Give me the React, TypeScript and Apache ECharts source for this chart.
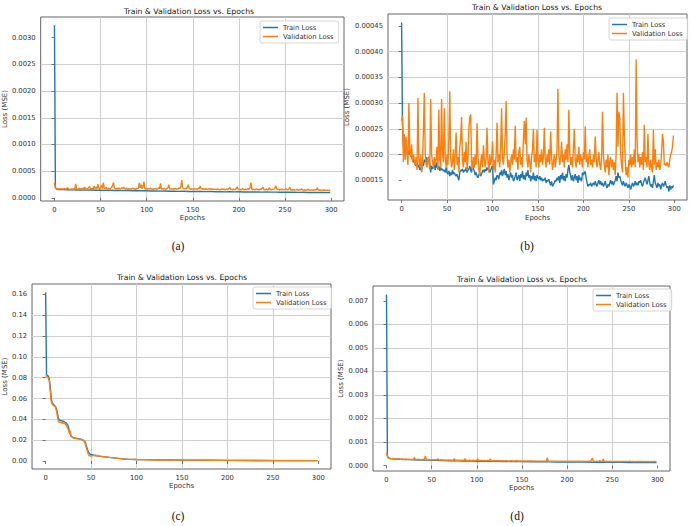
import { useEffect, useRef } from "react";
import * as echarts from "echarts";

type Pt = [number, number];

// Shared epoch axis
const EPOCH_TICKS = [0, 50, 100, 150, 200, 250, 300];
const LAST_EPOCH = 299;

// (a) losses, in units of 1e-6
const A_Y_TICKS = [0, 0.0005, 0.001, 0.0015, 0.002, 0.0025, 0.003];
const A_TRAIN: Pt[] = [
  [0, 3230], [1, 200], [2, 165], [3, 160], [5, 158], [10, 155], [15, 152], [20, 150], [25, 148], [30, 150],
  [35, 145], [40, 147], [45, 143], [50, 145], [55, 140], [60, 142], [65, 138], [70, 140], [75, 136], [80, 138],
  [85, 134], [90, 135], [95, 132], [100, 133], [105, 128], [110, 130], [115, 126], [120, 128], [125, 124], [130, 126],
  [135, 122], [140, 124], [145, 120], [150, 122], [155, 118], [160, 120], [165, 116], [170, 118], [175, 115], [180, 116],
  [185, 113], [190, 115], [195, 112], [200, 114], [205, 110], [210, 112], [215, 109], [220, 111], [225, 108], [230, 110],
  [235, 107], [240, 108], [245, 105], [250, 107], [255, 104], [260, 106], [265, 103], [270, 104], [275, 101], [280, 103],
  [285, 100], [290, 101], [295, 98], [299, 100],
];
const A_VAL = [
  280, 185, 170, 165, 172, 160, 168, 175, 162, 170, 165, 178, 160, 168, 190, 172, 165, 160, 170, 158,
  165, 172, 160, 260, 175, 162, 168, 180, 160, 172, 165, 185, 170, 200, 162, 175, 168, 190, 210, 172,
  165, 180, 170, 220, 175, 200, 168, 255, 185, 170, 190, 240, 175, 285, 180, 170, 195, 165, 175, 185,
  170, 178, 200, 230, 290, 185, 172, 165, 180, 170, 188, 165, 175, 190, 168, 200, 172, 165, 185, 160,
  170, 165, 178, 160, 172, 180, 165, 170, 158, 175, 168, 180, 280, 190, 245, 175, 200, 305, 172, 165,
  180, 160, 175, 165, 185, 162, 170, 158, 175, 165, 180, 160, 170, 190, 175, 270, 165, 172, 160, 178,
  168, 160, 175, 185, 245, 170, 162, 175, 160, 170, 165, 180, 158, 172, 165, 190, 175, 200, 335, 190,
  175, 165, 180, 170, 200, 245, 175, 168, 160, 172, 165, 158, 175, 162, 170, 160, 180, 175, 225, 170,
  162, 175, 158, 168, 160, 172, 155, 165, 175, 160, 168, 155, 170, 162, 158, 165, 155, 168, 160, 150,
  162, 155, 170, 158, 165, 150, 160, 168, 155, 175, 200, 162, 158, 150, 165, 155, 160, 170, 210, 162,
  155, 165, 150, 160, 172, 158, 150, 165, 155, 162, 175, 158, 185, 285, 165, 155, 162, 150, 158, 170,
  155, 160, 148, 165, 158, 175, 200, 160, 152, 158, 165, 150, 160, 190, 155, 148, 162, 155, 165, 180,
  225, 170, 155, 160, 148, 158, 150, 165, 155, 150, 160, 175, 148, 155, 160, 200, 155, 145, 152, 148,
  155, 145, 150, 160, 148, 142, 155, 150, 175, 148, 145, 152, 140, 150, 145, 158, 148, 142, 150, 145,
  140, 150, 145, 155, 148, 190, 150, 142, 148, 138, 145, 150, 140, 148, 142, 135, 145, 140, 138, 142,
];

// (b) losses, in units of 1e-6
const B_Y_TICKS = [0.00015, 0.0002, 0.00025, 0.0003, 0.00035, 0.0004, 0.00045];
const B_TRAIN = [
  457, 260, 215, 205, 218, 210, 212, 205, 200, 210, 198, 195, 190, 185, 190, 180, 178, 185, 175, 180,
  170, 175, 168, 182, 178, 190, 185, 195, 180, 188, 196, 182, 165, 178, 172, 175, 180, 170, 185, 175,
  172, 178, 168, 175, 170, 172, 168, 170, 165, 175, 165, 162, 168, 158, 165, 160, 170, 162, 165, 160,
  158, 162, 155, 150, 165, 170, 168, 172, 165, 170, 168, 175, 165, 170, 172, 178, 170, 165, 182, 172,
  168, 160, 165, 158, 155, 160, 165, 158, 162, 168, 170, 165, 172, 168, 175, 170, 172, 165, 170, 175,
  178, 142, 148, 155, 150, 160, 158, 152, 165, 160, 170, 158, 165, 172, 160, 168, 155, 162, 150, 158,
  165, 155, 160, 148, 152, 158, 165, 150, 155, 160, 148, 162, 155, 168, 152, 160, 150, 165, 158, 170,
  155, 160, 148, 158, 152, 165, 150, 158, 148, 160, 155, 152, 158, 150, 155, 148, 152, 150, 155, 145,
  150, 148, 152, 145, 140, 148, 138, 142, 145, 150, 148, 155, 150, 158, 145, 160, 152, 165, 150, 158,
  148, 162, 155, 170, 180, 165, 158, 150, 160, 148, 155, 162, 150, 158, 145, 160, 150, 155, 148, 165,
  160, 165, 167, 155, 145, 138, 142, 140, 145, 138, 142, 145, 140, 148, 142, 138, 145, 150, 142, 148,
  140, 145, 138, 142, 148, 140, 135, 142, 138, 145, 150, 142, 148, 140, 145, 150, 158, 148, 165, 155,
  158, 150, 145, 140, 148, 142, 138, 145, 140, 135, 142, 138, 132, 140, 145, 138, 142, 148, 140, 145,
  140, 148, 145, 150, 142, 138, 145, 150, 155, 148, 142, 150, 158, 145, 138, 142, 135, 148, 160, 145,
  140, 135, 145, 138, 142, 132, 140, 145, 138, 142, 148, 140, 135, 138, 128, 140, 132, 138, 135, 140,
];
const B_VAL = [
  265, 275, 185, 240, 190, 235, 200, 180, 300, 210, 195, 220, 185, 200, 190, 180, 195, 170, 310, 190,
  175, 200, 165, 185, 245, 320, 200, 180, 175, 195, 185, 170, 308, 200, 185, 175, 195, 180, 190, 215,
  170, 287, 190, 175, 308, 200, 185, 290, 195, 175, 200, 180, 230, 323, 195, 175, 185, 210, 170, 200,
  243, 180, 195, 165, 215, 230, 273, 190, 175, 205, 185, 225, 170, 190, 250, 272, 278, 185, 170, 195,
  175, 200, 180, 261, 195, 170, 160, 185, 200, 175, 218, 190, 175, 195, 252, 185, 165, 200, 180, 190,
  226, 170, 190, 165, 200, 262, 185, 200, 175, 215, 290, 195, 180, 205, 240, 304, 200, 175, 190, 165,
  185, 200, 180, 210, 190, 256, 185, 195, 170, 205, 215, 180, 195, 175, 230, 265, 220, 272, 190, 175,
  200, 185, 165, 195, 210, 250, 185, 200, 175, 248, 190, 175, 200, 185, 210, 180, 195, 252, 190, 175,
  200, 185, 210, 180, 245, 195, 170, 185, 200, 175, 190, 210, 328, 200, 180, 195, 225, 185, 200, 175,
  210, 190, 220, 185, 287, 200, 180, 195, 175, 210, 250, 190, 175, 200, 185, 215, 180, 200, 190, 175,
  205, 190, 255, 185, 200, 175, 195, 210, 180, 190, 175, 200, 185, 235, 195, 175, 190, 205, 180, 170,
  195, 283, 200, 180, 165, 190, 175, 200, 160, 185, 195, 175, 190, 170, 185, 160, 200, 320, 215, 283,
  270, 200, 180, 165, 320, 240, 190, 160, 175, 155, 190, 180, 200, 175, 195, 180, 210, 175, 385, 230,
  185, 200, 175, 195, 180, 205, 170, 258, 185, 195, 175, 240, 180, 170, 190, 175, 165, 248, 180, 210,
  170, 185, 175, 190, 170, 180, 205, 240, 225, 180, 182, 178, 185, 180, 175, 190, 200, 205, 215, 237,
];

// (c) losses, in natural units
const C_Y_TICKS = [0, 0.02, 0.04, 0.06, 0.08, 0.1, 0.12, 0.14, 0.16];
const C_TRAIN: Pt[] = [
  [0, 0.162], [1, 0.083], [2, 0.082], [3, 0.0815], [4, 0.079], [5, 0.072], [6, 0.062], [7, 0.056], [8, 0.055],
  [9, 0.054], [10, 0.053], [11, 0.052], [12, 0.05], [13, 0.046], [14, 0.041], [15, 0.0395], [16, 0.039],
  [18, 0.0385], [20, 0.038], [22, 0.037], [24, 0.035], [25, 0.033], [26, 0.029], [27, 0.026], [28, 0.024],
  [30, 0.0225], [33, 0.022], [36, 0.0215], [39, 0.021], [41, 0.02], [43, 0.019], [44, 0.017], [45, 0.014],
  [46, 0.011], [47, 0.0085], [48, 0.007], [50, 0.006], [53, 0.0055], [56, 0.005], [60, 0.0045], [65, 0.004],
  [70, 0.0035], [75, 0.003], [80, 0.0025], [85, 0.002], [90, 0.0018], [100, 0.0015], [110, 0.0013],
  [120, 0.0011], [140, 0.0009], [160, 0.0008], [180, 0.0007], [200, 0.0006], [230, 0.0005], [260, 0.0004],
  [299, 0.0004],
];
const C_VAL: Pt[] = [
  [0, 0.082], [1, 0.0815], [2, 0.081], [3, 0.0795], [4, 0.077], [5, 0.068], [6, 0.058], [7, 0.055], [8, 0.054],
  [9, 0.053], [10, 0.0525], [11, 0.051], [12, 0.048], [13, 0.043], [14, 0.038], [15, 0.0375], [17, 0.037],
  [19, 0.0365], [21, 0.036], [23, 0.034], [24, 0.032], [25, 0.03], [26, 0.027], [27, 0.029], [28, 0.024],
  [29, 0.023], [31, 0.022], [34, 0.0215], [37, 0.021], [40, 0.0205], [42, 0.0195], [43, 0.018], [44, 0.0155],
  [45, 0.012], [46, 0.009], [47, 0.0065], [48, 0.005], [50, 0.0048], [53, 0.0052], [55, 0.0055], [58, 0.0048],
  [62, 0.0045], [66, 0.004], [70, 0.0035], [75, 0.003], [80, 0.0025], [85, 0.002], [90, 0.0017], [100, 0.0014],
  [110, 0.0012], [120, 0.001], [140, 0.0009], [160, 0.0008], [180, 0.0007], [200, 0.0006], [230, 0.0005],
  [260, 0.0004], [299, 0.0004],
];

// (d) losses, in units of 1e-6
const D_Y_TICKS = [0, 0.001, 0.002, 0.003, 0.004, 0.005, 0.006, 0.007];
const D_TRAIN: Pt[] = [
  [0, 7270], [1, 420], [2, 340], [3, 310], [5, 295], [10, 280], [15, 265], [20, 255], [25, 250], [30, 240],
  [35, 238], [40, 232], [45, 228], [50, 225], [55, 218], [60, 215], [65, 210], [70, 205], [75, 202], [80, 198],
  [85, 195], [90, 190], [95, 188], [100, 185], [110, 180], [120, 175], [130, 172], [140, 168], [150, 165],
  [160, 162], [170, 158], [180, 155], [190, 152], [200, 150], [210, 148], [220, 145], [230, 142], [240, 140],
  [250, 138], [260, 135], [270, 132], [280, 130], [290, 128], [299, 125],
];
const D_VAL = [
  550, 380, 330, 310, 300, 295, 290, 300, 285, 280, 290, 275, 285, 270, 280, 275, 265, 280, 270, 260,
  275, 265, 280, 260, 270, 255, 265, 250, 260, 270, 255, 340, 260, 250, 265, 255, 245, 260, 250, 245,
  255, 260, 250, 410, 270, 250, 240, 255, 245, 240, 250, 245, 235, 250, 240, 245, 235, 290, 240, 230,
  245, 235, 240, 225, 235, 240, 230, 225, 240, 230, 225, 235, 220, 230, 225, 300, 230, 220, 225, 230,
  220, 225, 215, 230, 220, 225, 215, 295, 225, 215, 220, 210, 225, 215, 220, 210, 225, 215, 210, 220,
  215, 280, 210, 220, 205, 215, 210, 200, 215, 205, 210, 200, 215, 205, 210, 290, 205, 200, 210, 205,
  200, 210, 195, 205, 200, 210, 195, 200, 205, 195, 200, 190, 205, 195, 200, 190, 200, 195, 205, 190,
  195, 200, 190, 195, 205, 190, 195, 185, 200, 190, 195, 185, 200, 190, 195, 185, 190, 195, 185, 190,
  185, 195, 190, 180, 195, 185, 190, 180, 190, 185, 180, 190, 185, 180, 190, 185, 180, 195, 330, 190,
  185, 180, 190, 185, 175, 185, 180, 190, 175, 185, 180, 175, 185, 180, 175, 185, 180, 175, 185, 170,
  180, 175, 185, 170, 180, 175, 185, 170, 180, 175, 170, 180, 175, 185, 170, 180, 175, 170, 180, 175,
  170, 180, 175, 170, 185, 175, 200, 240, 320, 200, 180, 170, 175, 180, 170, 175, 210, 180, 170, 175,
  280, 185, 175, 170, 180, 165, 175, 170, 180, 165, 175, 170, 165, 175, 170, 165, 180, 170, 165, 175,
  170, 165, 175, 170, 165, 180, 170, 165, 175, 190, 170, 165, 175, 160, 170, 165, 160, 170, 165, 175,
  160, 170, 165, 175, 160, 170, 165, 160, 170, 165, 175, 160, 165, 170, 160, 165, 175, 170, 165, 170,
];

const TITLE = "Train & Validation Loss vs. Epochs";
const SERIES_NAMES = ["Train Loss", "Validation Loss"];

const FONT = "'DejaVu Sans', sans-serif";
const SERIF = "'Liberation Serif', 'DejaVu Serif', serif";
const TEXT = "#333";
const FRAME = "#555";
const GRID_LINE = "#cfcfcf";
const TRAIN_COLOR = "#1f77b4";
const VAL_COLOR = "#ff7f0e";

const seq = (ys: number[], unit: number): Pt[] => ys.map((v, i) => [i, v * unit]);
const scaled = (pts: Pt[], unit: number): Pt[] => pts.map(([x, v]) => [x, v * unit]);

const PANELS = [
  {
    grid: { left: 40, top: 17, right: 347, bottom: 325 },
    titleAt: [189, 11], legendAt: [260, 21], caption: { text: "(a)", x: 178, y: 246 },
    yTicks: A_Y_TICKS, digits: 4, yNameGap: 30, xNameGap: 13,
    train: scaled(A_TRAIN, 1e-6), val: seq(A_VAL, 1e-6),
  },
  {
    grid: { left: 388, top: 14, right: 4, bottom: 326 },
    titleAt: [537, 7.5], legendAt: [609, 18], caption: { text: "(b)", x: 527, y: 246 },
    yTicks: B_Y_TICKS, digits: 5, yNameGap: 35, xNameGap: 14,
    train: seq(B_TRAIN, 1e-6), val: seq(B_VAL, 1e-6),
  },
  {
    grid: { left: 32, top: 284, right: 360, bottom: 57 },
    titleAt: [182, 277], legendAt: [253, 287], caption: { text: "(c)", x: 178, y: 516 },
    yTicks: C_Y_TICKS, digits: 2, yNameGap: 22, xNameGap: 13,
    train: scaled(C_TRAIN, 1), val: scaled(C_VAL, 1),
  },
  {
    grid: { left: 373, top: 286, right: 21, bottom: 55 },
    titleAt: [522, 279], legendAt: [593, 289], caption: { text: "(d)", x: 517, y: 516 },
    yTicks: D_Y_TICKS, digits: 3, yNameGap: 24, xNameGap: 13.5,
    train: scaled(D_TRAIN, 1e-6), val: seq(D_VAL, 1e-6),
  },
];

// Matplotlib-style 5% margins around the data
const xPad = LAST_EPOCH * 0.05;
const yExtent = (pts: Pt[]): [number, number] => {
  const ys = pts.map((d) => d[1]);
  const lo = Math.min(...ys);
  const hi = Math.max(...ys);
  const m = (hi - lo) * 0.05;
  return [lo - m, hi + m];
};

const tickText = { fontSize: 6.8, color: TEXT, fontFamily: FONT };
const nameText = { fontSize: 7, color: TEXT, fontFamily: FONT };

function buildOption() {
  return {
    animation: false,
    backgroundColor: "#ffffff",
    grid: PANELS.map((p) => ({
      ...p.grid,
      show: true,
      borderColor: FRAME,
      borderWidth: 0.9,
      backgroundColor: "transparent",
    })),
    xAxis: PANELS.map((p, i) => ({
      type: "value",
      gridIndex: i,
      min: -xPad,
      max: LAST_EPOCH + xPad,
      splitNumber: 7,
      name: "Epochs",
      nameLocation: "middle",
      nameGap: p.xNameGap,
      nameTextStyle: nameText,
      axisLine: { show: false },
      axisTick: { show: true, length: 3, lineStyle: { color: FRAME, width: 0.8 }, customValues: EPOCH_TICKS },
      axisLabel: {
        ...tickText,
        margin: 5,
        customValues: EPOCH_TICKS,
        formatter: (v: number) => String(Math.round(v)),
      },
      splitLine: { show: true, showMinLine: false, showMaxLine: false, lineStyle: { color: GRID_LINE, width: 1 } },
    })),
    yAxis: PANELS.map((p, i) => {
      const [lo, hi] = yExtent([...p.train, ...p.val]);
      return {
        type: "value",
        gridIndex: i,
        min: lo,
        max: hi,
        splitNumber: 7,
        name: "Loss (MSE)",
        nameLocation: "middle",
        nameGap: p.yNameGap,
        nameTextStyle: nameText,
        axisLine: { show: false },
        axisTick: { show: true, length: 3, lineStyle: { color: FRAME, width: 0.8 }, customValues: p.yTicks },
        axisLabel: {
          ...tickText,
          margin: 5,
          customValues: p.yTicks,
          formatter: (v: number) => v.toFixed(p.digits),
        },
        splitLine: { show: true, showMinLine: false, showMaxLine: false, lineStyle: { color: GRID_LINE, width: 1 } },
      };
    }),
    legend: PANELS.map((p) => ({
      data: SERIES_NAMES,
      orient: "vertical",
      left: p.legendAt[0],
      top: p.legendAt[1],
      icon: "rect",
      itemWidth: 15,
      itemHeight: 1.5,
      itemGap: 2,
      padding: [3, 5, 3, 3],
      selectedMode: false,
      borderColor: "#cccccc",
      borderWidth: 0.8,
      borderRadius: 2,
      backgroundColor: "rgba(255,255,255,0.85)",
      textStyle: tickText,
    })),
    series: PANELS.flatMap((p, i) => [
      {
        name: SERIES_NAMES[0],
        type: "line",
        xAxisIndex: i,
        yAxisIndex: i,
        data: p.train,
        showSymbol: false,
        symbol: "none",
        lineStyle: { color: TRAIN_COLOR, width: 1.4 },
        itemStyle: { color: TRAIN_COLOR },
        z: 2,
      },
      {
        name: SERIES_NAMES[1],
        type: "line",
        xAxisIndex: i,
        yAxisIndex: i,
        data: p.val,
        showSymbol: false,
        symbol: "none",
        lineStyle: { color: VAL_COLOR, width: 1.4 },
        itemStyle: { color: VAL_COLOR },
        z: 3,
      },
    ]),
    graphic: {
      elements: [
        ...PANELS.map((p) => ({
          type: "text",
          x: p.titleAt[0],
          y: p.titleAt[1],
          silent: true,
          style: {
            text: TITLE,
            fill: "#222",
            fontSize: 7.7,
            fontFamily: FONT,
            align: "center",
            verticalAlign: "middle",
          },
        })),
        ...PANELS.map((p) => ({
          type: "text",
          x: p.caption.x,
          y: p.caption.y,
          silent: true,
          style: {
            text: p.caption.text,
            fill: "#111",
            fontSize: 11.5,
            fontFamily: SERIF,
            align: "center",
            verticalAlign: "middle",
          },
        })),
      ],
    },
  };
}

export default function App() {
  const ref = useRef<HTMLDivElement>(null);

  useEffect(() => {
    if (!ref.current) return;
    const chart = echarts.init(ref.current, undefined, { renderer: "svg" });
    chart.setOption(buildOption() as any);
    return () => chart.dispose();
  }, []);

  return (
    <div
      ref={ref}
      style={{ position: "fixed", left: 0, top: 0, width: 691, height: 526, background: "#fff" }}
    />
  );
}
